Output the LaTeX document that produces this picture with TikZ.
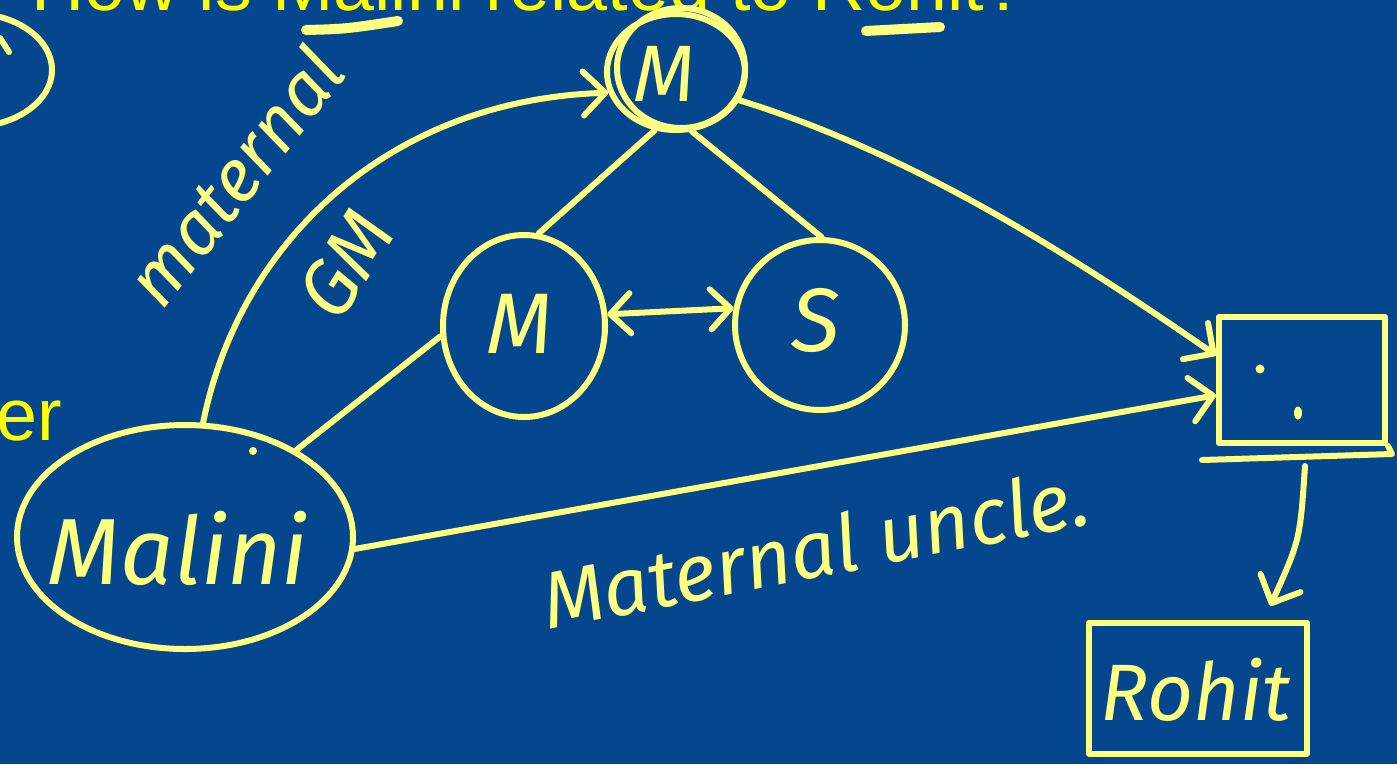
\documentclass[tikz,border=0pt]{standalone}
\usepackage{fontspec}
\setmainfont{Liberation Sans}
\newfontfamily\hand{Fira Sans}
\usetikzlibrary{shapes.geometric,arrows.meta}
\definecolor{bg}{HTML}{04478F}
\definecolor{ink}{HTML}{FFFF80}
\definecolor{titleyellow}{HTML}{FFFF00}
\newcommand{\hfs}[1]{\hand\itshape\fontsize{#1}{#1}\selectfont}
\begin{document}
\begin{tikzpicture}[x=1pt,y=-1pt,
  pen/.style={draw=ink, line width=6pt, line cap=round, line join=round},
  circ/.style={pen, ellipse, inner sep=0pt},
  hw/.style={text=ink, inner sep=0pt},
  arr/.style={pen, -{Straight Barb[length=22pt, width=44pt, round]}},
  arrtwo/.style={pen, {Straight Barb[length=20pt, width=40pt, round]}-{Straight Barb[length=20pt, width=40pt, round]}},
  titletext/.style={text=titleyellow, inner sep=0pt, font=\fontsize{73.6}{80}\selectfont}]
\useasboundingbox (0,0) rectangle (1397,764);
\clip (0,0) rectangle (1397,764);
\fill[bg] (0,0) rectangle (1397,764);

% printed texts
\node[titletext, anchor=base west] (title) at (31,10) {How is Malini related to Rohit?};
\node[titletext, anchor=base east] (er) at (62,440) {er};

% top-left partial shape
\draw[pen] (-30,70) ellipse[x radius=82pt, y radius=57pt];
\draw[pen] (0,38) -- (9,52);

% title underlines
\draw[ink, line width=10pt, line cap=round] (306,30) .. controls (345,29) .. (398,21);
\draw[ink, line width=10pt, line cap=round] (866,31) -- (940,27);

% circles and boxes
\node[circ, minimum width=138pt, minimum height=116pt] (topM) at (676,72) {};
\draw[pen] (681,68) ellipse[x radius=64pt, y radius=60pt];
\node[hw, font=\hfs{80}] (topMl) at (664,74) {M};
\node[circ, minimum width=162pt, minimum height=182pt] (midM) at (524,326) {};
\node[hw, font=\hfs{86}] (midMl) at (520,324) {M};
\node[circ, minimum width=170pt, minimum height=170pt] (sis) at (820,325) {};
\node[hw, font=\hfs{90}] (sisl) at (816,320) {S};
\node[circ, minimum width=336pt, minimum height=224pt] (malini) at (185,537) {};
\node[hw, font=\hfs{94}] (malinil) at (178,548) {Malini};
\fill[ink] (253,451) circle[radius=4pt];

\node[pen, rectangle, minimum width=166pt, minimum height=126pt] (box) at (1302,380) {};
\draw[pen] ([shift={(-14,14)}]box.south west) -- ([shift={(4,8)}]box.south east) -- (box.south east);
\fill[ink] (1260,369) circle[radius=4.5pt];
\fill[ink] (1298,413) ellipse[x radius=4pt, y radius=6.5pt];
\coordinate (boxout) at (1305,466);

\node[pen, rectangle, minimum width=218pt, minimum height=131pt] (rohit) at (1198,688) {};
\node[hw, font=\hfs{80}] (rohitl) at (1196,690) {Rohit};

% handwritten labels
\node[hw, rotate=52, font=\hfs{74}] (mat) at (234,176) {maternal};
\node[hw, rotate=58, font=\hfs{78}] (gm) at (346,264) {GM};
\node[hw, rotate=11, font=\hfs{80}] (mu) at (815,548) {Maternal uncle.};

% connectors
\draw[pen] (topM.250) -- (midM.81);
\draw[pen] (topM.285) -- (sis.89);
\draw[arr] (topM.336) .. controls (900,150) and (1050,240) .. (box.164);
\draw[arr] (malini.81) .. controls (240,240) and (390,100) .. (topM.197);
\draw[pen] (malini.38) -- (midM.187);
\draw[arrtwo] (midM.8) -- (sis.169);
\draw[arr] (malini.356) -- (box.190);
\draw[arr, shorten >=15pt] (boxout) .. controls (1300,540) .. (rohit.46);
\end{tikzpicture}
\end{document}
